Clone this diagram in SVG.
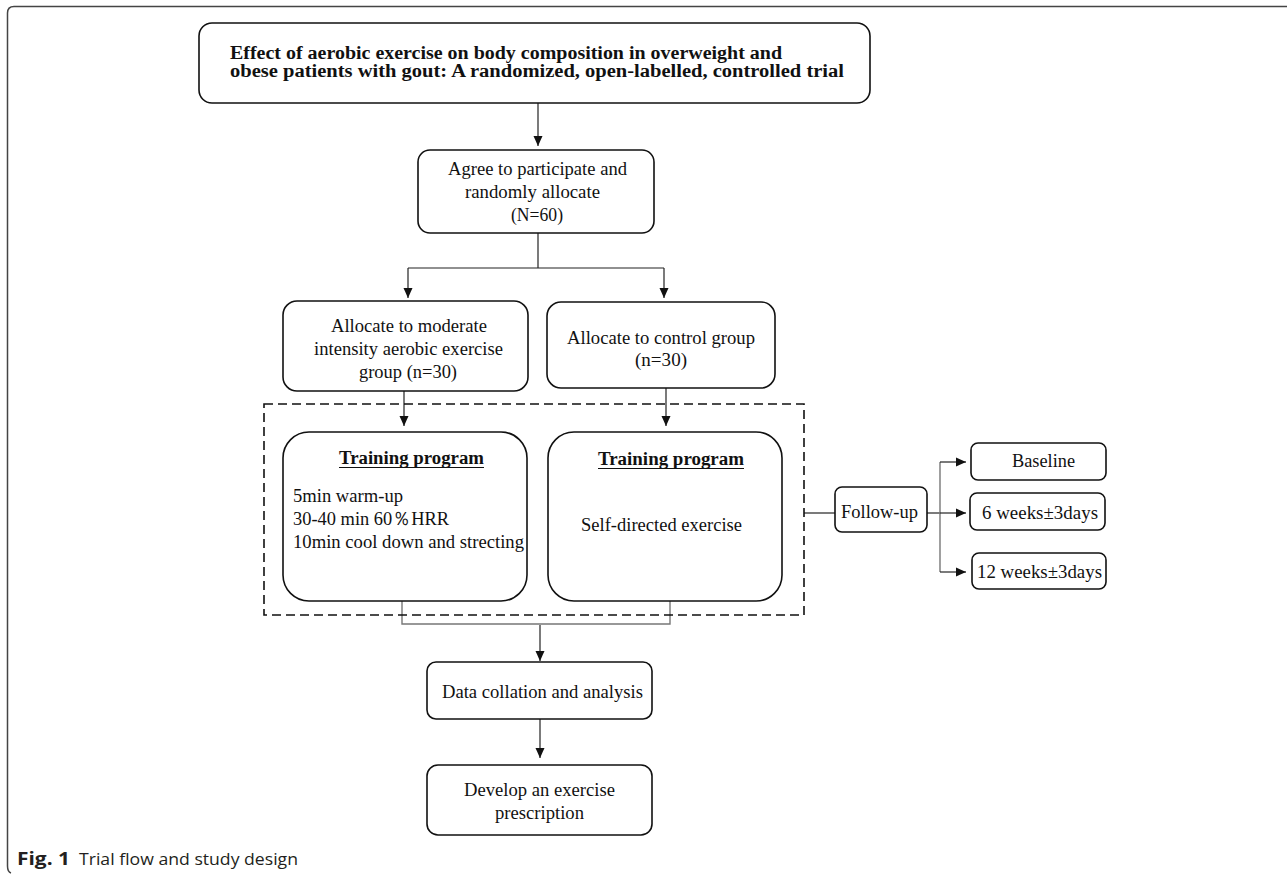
<svg xmlns="http://www.w3.org/2000/svg" width="1287" height="874" viewBox="0 0 1287 874">
<defs>
<marker id="ah" markerWidth="11" markerHeight="11" refX="10" refY="5" orient="auto" markerUnits="userSpaceOnUse">
<path d="M0,0.5 L10,5 L0,9.5 Z" fill="#111"/>
</marker>
<style>
.box{fill:#fff;stroke:#111;stroke-width:1.6}
.t{font-family:"Liberation Serif","Times New Roman",serif;font-size:18.5px;fill:#111}
.b{font-weight:bold}
.ln{fill:none;stroke:#222;stroke-width:1.2}
.gl{fill:none;stroke:#777;stroke-width:1.4}
.ar{fill:none;stroke:#222;stroke-width:1.2;marker-end:url(#ah)}
.cap{font-family:"Open Sans","Noto Sans",sans-serif;font-size:17px;fill:#231f20}
</style>
</defs>
<rect x="0" y="0" width="1287" height="874" fill="#fff"/>
<path d="M1287,6.5 L14,6.5 Q7.5,6.5 7.5,13 L7.5,866 Q7.5,872 11,873" fill="none" stroke="#444" stroke-width="1.5"/>

<g id="connectors">
<line class="ar" x1="538" y1="103" x2="538" y2="146"/>
<line class="ln" x1="538" y1="233" x2="538" y2="268"/>
<line class="ln" x1="408" y1="268" x2="664" y2="268"/>
<line class="ar" x1="408" y1="268" x2="408" y2="298"/>
<line class="ar" x1="664" y1="268" x2="664" y2="298"/>
<line class="ar" x1="404" y1="391" x2="404" y2="426"/>
<line class="ar" x1="666" y1="388" x2="666" y2="426"/>
<polyline class="gl" points="402,601 402,624 670,624 670,601"/>
<line class="ar" x1="540" y1="625" x2="540" y2="661"/>
<line class="ar" x1="540" y1="719" x2="540" y2="758"/>
<line class="ln" x1="804" y1="513" x2="835" y2="513"/>
<line class="ln" x1="927" y1="513" x2="940" y2="513"/>
<line class="gl" x1="940" y1="462" x2="940" y2="572"/>
<line class="ar" x1="940" y1="462" x2="966" y2="462"/>
<line class="ar" x1="940" y1="513" x2="966" y2="513"/>
<line class="ar" x1="940" y1="572" x2="966" y2="572"/>
</g>

<g id="title">
<rect class="box" x="199" y="23" width="671" height="80" rx="13"/>
<text class="t b" x="230" y="59" font-size="20" textLength="552" lengthAdjust="spacingAndGlyphs">Effect of aerobic exercise on body composition  in overweight and</text>
<text class="t b" x="230" y="77" font-size="20" textLength="614" lengthAdjust="spacingAndGlyphs">obese patients with gout: A  randomized, open-labelled, controlled trial</text>
</g>

<g id="agree">
<rect class="box" x="418" y="150" width="236" height="83" rx="12"/>
<text class="t" x="448" y="175" textLength="179" lengthAdjust="spacingAndGlyphs">Agree to participate and</text>
<text class="t" x="465" y="198" textLength="135" lengthAdjust="spacingAndGlyphs">randomly allocate</text>
<text class="t" x="511" y="221" textLength="52" lengthAdjust="spacingAndGlyphs">(N=60)</text>
</g>

<g id="alloc-exercise">
<rect class="box" x="283" y="301" width="245" height="90" rx="14"/>
<text class="t" x="331" y="332" textLength="156" lengthAdjust="spacingAndGlyphs">Allocate to moderate</text>
<text class="t" x="314" y="355" textLength="189" lengthAdjust="spacingAndGlyphs">intensity aerobic exercise</text>
<text class="t" x="359" y="378" textLength="98" lengthAdjust="spacingAndGlyphs">group (n=30)</text>
</g>

<g id="alloc-control">
<rect class="box" x="547" y="302" width="228" height="86" rx="14"/>
<text class="t" x="567" y="344" textLength="188" lengthAdjust="spacingAndGlyphs">Allocate to control group</text>
<text class="t" x="635" y="366" textLength="52" lengthAdjust="spacingAndGlyphs">(n=30)</text>
</g>

<g id="dashed-group">
<rect x="264" y="404" width="540" height="211" fill="none" stroke="#111" stroke-width="1.6" stroke-dasharray="9,5"/>
</g>

<g id="training-exercise">
<rect class="box" x="283" y="432" width="244" height="169" rx="26"/>
<text class="t b" x="339" y="464" textLength="145" lengthAdjust="spacingAndGlyphs">Training program</text>
<line x1="339" y1="467.5" x2="484" y2="467.5" stroke="#111" stroke-width="1.2"/>
<text class="t" x="293" y="502" textLength="110" lengthAdjust="spacingAndGlyphs">5min warm-up</text>
<text class="t" x="293" y="525" textLength="156" lengthAdjust="spacingAndGlyphs">30-40 min 60％HRR</text>
<text class="t" x="293" y="548" textLength="231" lengthAdjust="spacingAndGlyphs">10min cool down and strecting</text>
</g>

<g id="training-control">
<rect class="box" x="548" y="432" width="234" height="169" rx="26"/>
<text class="t b" x="598" y="465" textLength="146" lengthAdjust="spacingAndGlyphs">Training program</text>
<line x1="598" y1="468.5" x2="744" y2="468.5" stroke="#111" stroke-width="1.2"/>
<text class="t" x="581" y="531" textLength="161" lengthAdjust="spacingAndGlyphs">Self-directed exercise</text>
</g>

<g id="data">
<rect class="box" x="427" y="662" width="225" height="57" rx="9"/>
<text class="t" x="442" y="698" textLength="201" lengthAdjust="spacingAndGlyphs">Data collation and analysis</text>
</g>

<g id="develop">
<rect class="box" x="427" y="765" width="225" height="70" rx="11"/>
<text class="t" x="464" y="796" textLength="151" lengthAdjust="spacingAndGlyphs">Develop an exercise</text>
<text class="t" x="495" y="819" textLength="89" lengthAdjust="spacingAndGlyphs">prescription</text>
</g>

<g id="followup">
<rect class="box" x="835" y="487" width="92" height="45" rx="7"/>
<text class="t" x="841" y="518" textLength="77" lengthAdjust="spacingAndGlyphs">Follow-up</text>
</g>

<g id="baseline">
<rect class="box" x="971" y="443" width="135" height="37" rx="7"/>
<text class="t" x="1012" y="467" textLength="63" lengthAdjust="spacingAndGlyphs">Baseline</text>
</g>

<g id="week6">
<rect class="box" x="970" y="493" width="135" height="37" rx="7"/>
<text class="t" x="982" y="519" textLength="116" lengthAdjust="spacingAndGlyphs">6 weeks±3days</text>
</g>

<g id="week12">
<rect class="box" x="972" y="553" width="134" height="36" rx="7"/>
<text class="t" x="977" y="578" textLength="125" lengthAdjust="spacingAndGlyphs">12 weeks±3days</text>
</g>

<g id="caption">
<text class="cap" x="17" y="865" font-weight="bold" textLength="53" lengthAdjust="spacingAndGlyphs">Fig. 1</text>
<text class="cap" x="79" y="865" textLength="219" lengthAdjust="spacingAndGlyphs">Trial flow and study design</text>
</g>
</svg>
